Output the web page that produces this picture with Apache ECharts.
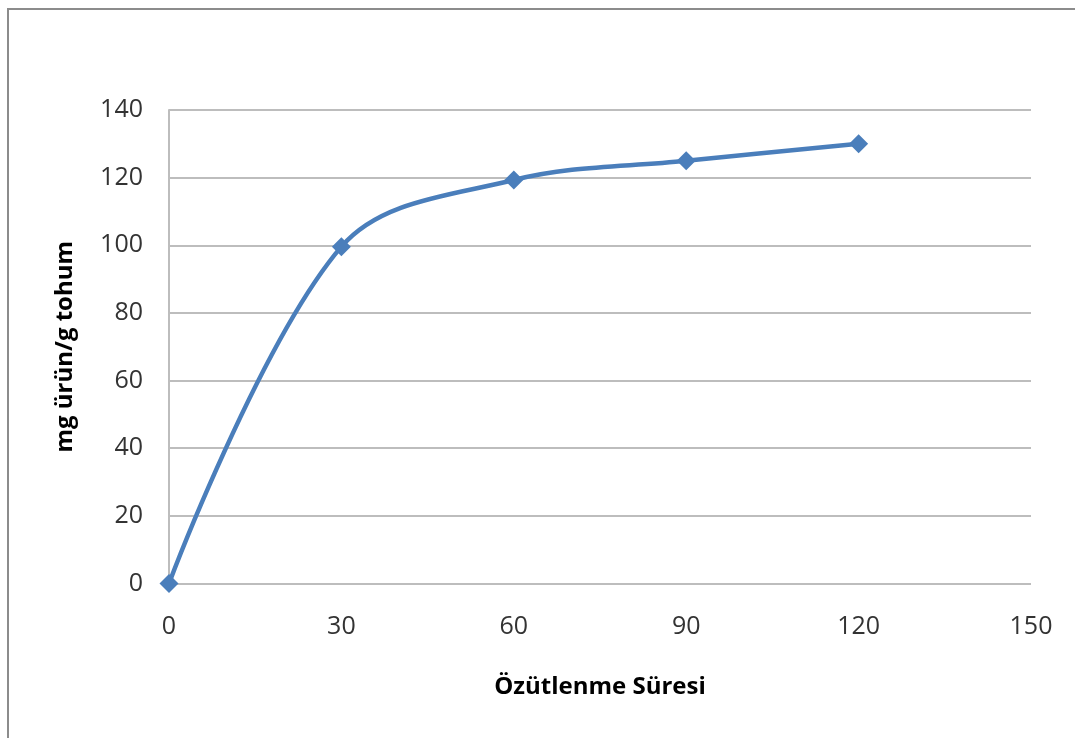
<!DOCTYPE html>
<html><head><meta charset="utf-8">
<script src="https://cdn.jsdelivr.net/npm/echarts@6/dist/echarts.min.js"></script>
<style>html,body{margin:0;padding:0;background:#fff}#c{width:1075px;height:738px}</style>
</head><body><div id="c"></div>
<script>
const xValues = [0, 30, 60, 90, 120];
const yValues = [0, 99.6, 119.3, 125.0, 130.0];
const xName = 'Özütlenme Süresi';
const yName = 'mg ürün/g tohum';

const chart = echarts.init(document.getElementById('c'));
const font = '"Open Sans", "DejaVu Sans", sans-serif';
chart.setOption({
  animation: false,
  backgroundColor: '#fff',
  graphic: [
    {type: 'line', shape: {x1: 8, y1: 9, x2: 8, y2: 738}, style: {stroke: '#8c8c8c', lineWidth: 2}},
    {type: 'line', shape: {x1: 7, y1: 9, x2: 1075, y2: 9}, style: {stroke: '#8c8c8c', lineWidth: 2}}
  ],
  grid: {left: 169, right: 44, top: 110, bottom: 154.5},
  xAxis: {
    type: 'value', min: 0, max: 150, interval: 30,
    name: xName, nameLocation: 'middle', nameGap: 92,
    nameTextStyle: {fontFamily: font, fontSize: 24, fontWeight: 'bold', color: '#000'},
    axisLine: {show: false}, axisTick: {show: false}, splitLine: {show: false},
    axisLabel: {fontFamily: font, fontSize: 25, color: '#333', margin: 31}
  },
  yAxis: {
    type: 'value', min: 0, max: 140, interval: 20,
    name: yName, nameLocation: 'middle', nameGap: 92,
    nameTextStyle: {fontFamily: font, fontSize: 24, fontWeight: 'bold', color: '#000'},
    axisLine: {show: true, lineStyle: {color: '#bdbdbd', width: 2}}, axisTick: {show: false},
    splitLine: {show: true, lineStyle: {color: '#bdbdbd', width: 2}},
    axisLabel: {fontFamily: font, fontSize: 25, color: '#333', margin: 26}
  },
  series: [{
    type: 'line',
    data: xValues.map((x, i) => [x, yValues[i]]),
    smooth: 0.35,
    symbol: 'diamond', symbolSize: 19,
    lineStyle: {color: '#4a7ebb', width: 4.5},
    itemStyle: {color: '#4a7ebb'}
  }]
});
</script></body></html>
